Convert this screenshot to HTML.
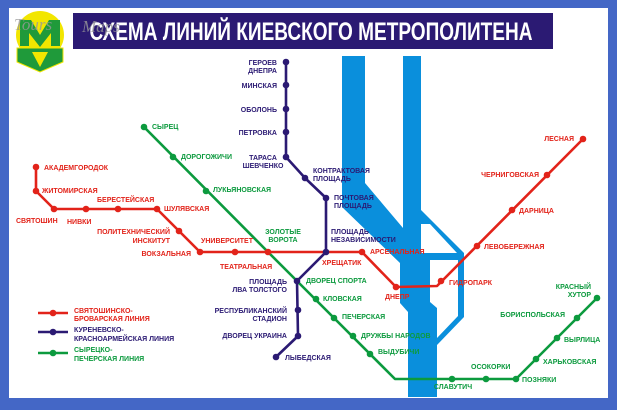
<!DOCTYPE html>
<html><head><meta charset="utf-8"><style>
html,body{margin:0;padding:0;background:#4467c6;}
svg{display:block}
text{font-family:"Liberation Sans Narrow","Liberation Sans",sans-serif;font-weight:bold;font-size:7px;}
.b{fill:#2b1a73}.r{fill:#e2231a}.g{fill:#0c9a3e}
</style></head><body>
<svg width="617" height="410" viewBox="0 0 617 410" xmlns="http://www.w3.org/2000/svg">
<rect x="0" y="0" width="617" height="410" fill="#4467c6"/>
<rect x="9" y="8" width="599" height="390" fill="#fff"/>
<!-- title -->
<rect x="73" y="13" width="480" height="36" fill="#2b1a73"/>
<text x="311" y="40" text-anchor="middle" style="font-size:25px;fill:#fff;font-family:'Liberation Sans Narrow','Liberation Sans',sans-serif;font-weight:bold" textLength="443" lengthAdjust="spacingAndGlyphs">СХЕМА ЛИНИЙ КИЕВСКОГО МЕТРОПОЛИТЕНА</text>
<!-- logo -->
<circle cx="40" cy="35" r="24" fill="#f2e600"/>
<polygon points="20,20 31,20 40,35 49,20 60,20 60,46 51,46 51,33 40,47 29,33 29,46 20,46" fill="#1f9a3a"/>
<polygon points="17,48 63,48 63,62 40,72 17,62" fill="#1f9a3a" stroke="#f2e600" stroke-width="1"/>
<polygon points="32,52 40,67 48,52" fill="#f2e600"/>
<text x="14" y="30" style="font-size:17px;fill:#999;font-style:italic;font-weight:normal;font-family:'Liberation Serif',serif;opacity:.8">Tours</text>
<text x="82" y="32" style="font-size:17px;fill:#999;font-style:italic;font-weight:normal;font-family:'Liberation Serif',serif;opacity:.8">Maps</text>
<!-- river -->
<polygon points="342,56 365,56 365,183 403,228 403,56 421,56 421,210 464,253 464,317 437,345 437,397 408,397 408,312 400,303 400,263 342,207" fill="#0a8fdc"/>
<polygon points="421,224 430,224 457,253 421,253" fill="#fff"/>
<polygon points="430,260 458,260 458,316 437,338 437,308 430,302" fill="#fff"/>
<!-- lines -->
<g fill="none" stroke-width="2.6" stroke-linejoin="round">
<polyline stroke="#2b1a73" points="286,62 286,157 305,178 326,198 326,252 297,281 298,336 276,357"/>
<polyline stroke="#0c9a3e" points="144,127 268,252 297,281 395,379 516,379 597,298"/>
<polyline stroke="#e2231a" points="36,167 36,191 54,209 157,209 200,252 362,252 396,287 437,286 583,139"/>
</g>
<g class="b">
<circle cx="286" cy="62" r="3.3"/><circle cx="286" cy="85" r="3.3"/><circle cx="286" cy="109" r="3.3"/><circle cx="286" cy="132" r="3.3"/><circle cx="286" cy="157" r="3.3"/><circle cx="305" cy="178" r="3.3"/><circle cx="326" cy="198" r="3.3"/><circle cx="326" cy="252" r="3.3"/><circle cx="297" cy="281" r="3.3"/><circle cx="298" cy="310" r="3.3"/><circle cx="298" cy="336" r="3.3"/><circle cx="276" cy="357" r="3.3"/>
</g>
<g class="r">
<circle cx="36" cy="167" r="3.3"/><circle cx="36" cy="191" r="3.3"/><circle cx="54" cy="209" r="3.3"/><circle cx="86" cy="209" r="3.3"/><circle cx="118" cy="209" r="3.3"/><circle cx="157" cy="209" r="3.3"/><circle cx="179" cy="231" r="3.3"/><circle cx="200" cy="252" r="3.3"/><circle cx="235" cy="252" r="3.3"/><circle cx="268" cy="252" r="3.3"/><circle cx="362" cy="252" r="3.3"/><circle cx="396" cy="287" r="3.3"/><circle cx="441" cy="281" r="3.3"/><circle cx="477" cy="246" r="3.3"/><circle cx="512" cy="210" r="3.3"/><circle cx="547" cy="175" r="3.3"/><circle cx="583" cy="139" r="3.3"/>
</g>
<g class="g">
<circle cx="144" cy="127" r="3.3"/><circle cx="173" cy="157" r="3.3"/><circle cx="206" cy="191" r="3.3"/><circle cx="316" cy="299" r="3.3"/><circle cx="334" cy="318" r="3.3"/><circle cx="353" cy="336" r="3.3"/><circle cx="370" cy="354" r="3.3"/><circle cx="452" cy="379" r="3.3"/><circle cx="486" cy="379" r="3.3"/><circle cx="516" cy="379" r="3.3"/><circle cx="536" cy="359" r="3.3"/><circle cx="557" cy="338" r="3.3"/><circle cx="577" cy="318" r="3.3"/><circle cx="597" cy="298" r="3.3"/>
</g>
<!-- blue labels -->
<g class="b">
<text x="277" y="65" text-anchor="end">ГЕРОЕВ</text><text x="277" y="73" text-anchor="end">ДНЕПРА</text>
<text x="277" y="88" text-anchor="end">МИНСКАЯ</text>
<text x="277" y="112" text-anchor="end">ОБОЛОНЬ</text>
<text x="277" y="135" text-anchor="end">ПЕТРОВКА</text>
<text x="263" y="160" text-anchor="middle">ТАРАСА</text><text x="263" y="168" text-anchor="middle">ШЕВЧЕНКО</text>
<text x="313" y="173">КОНТРАКТОВАЯ</text><text x="313" y="181">ПЛОЩАДЬ</text>
<text x="334" y="200">ПОЧТОВАЯ</text><text x="334" y="208">ПЛОЩАДЬ</text>
<text x="331" y="234">ПЛОЩАДЬ</text><text x="331" y="242">НЕЗАВИСИМОСТИ</text>
<text x="287" y="284" text-anchor="end">ПЛОЩАДЬ</text><text x="287" y="292" text-anchor="end">ЛВА ТОЛСТОГО</text>
<text x="287" y="313" text-anchor="end">РЕСПУБЛИКАНСКИЙ</text><text x="287" y="321" text-anchor="end">СТАДИОН</text>
<text x="287" y="338" text-anchor="end">ДВОРЕЦ УКРАИНА</text>
<text x="285" y="360">ЛЫБЕДСКАЯ</text>
</g>
<g class="r">
<text x="44" y="170">АКАДЕМГОРОДОК</text>
<text x="42" y="193">ЖИТОМИРСКАЯ</text>
<text x="16" y="223">СВЯТОШИН</text>
<text x="67" y="224">НИВКИ</text>
<text x="97" y="202">БЕРЕСТЕЙСКАЯ</text>
<text x="164" y="211">ШУЛЯВСКАЯ</text>
<text x="170" y="234" text-anchor="end">ПОЛИТЕХНИЧЕСКИЙ</text><text x="170" y="243" text-anchor="end">ИНСКИТУТ</text>
<text x="191" y="256" text-anchor="end">ВОКЗАЛЬНАЯ</text>
<text x="201" y="243">УНИВЕРСИТЕТ</text>
<text x="220" y="269">ТЕАТРАЛЬНАЯ</text>
<text x="322" y="265">ХРЕЩАТИК</text>
<text x="370" y="254">АРСЕНАЛЬНАЯ</text>
<text x="385" y="299">ДНЕПР</text>
<text x="449" y="285">ГИДРОПАРК</text>
<text x="484" y="249">ЛЕВОБЕРЕЖНАЯ</text>
<text x="519" y="213">ДАРНИЦА</text>
<text x="539" y="177" text-anchor="end">ЧЕРНИГОВСКАЯ</text>
<text x="574" y="141" text-anchor="end">ЛЕСНАЯ</text>
</g>
<g class="g">
<text x="152" y="129">СЫРЕЦ</text>
<text x="181" y="159">ДОРОГОЖИЧИ</text>
<text x="213" y="192">ЛУКЬЯНОВСКАЯ</text>
<text x="283" y="234" text-anchor="middle">ЗОЛОТЫЕ</text><text x="283" y="242" text-anchor="middle">ВОРОТА</text>
<text x="306" y="283">ДВОРЕЦ СПОРТА</text>
<text x="323" y="301">КЛОВСКАЯ</text>
<text x="342" y="319">ПЕЧЕРСКАЯ</text>
<text x="361" y="338">ДРУЖБЫ НАРОДОВ</text>
<text x="378" y="354">ВЫДУБИЧИ</text>
<text x="453" y="389" text-anchor="middle">СЛАВУТИЧ</text>
<text x="471" y="369">ОСОКОРКИ</text>
<text x="522" y="382">ПОЗНЯКИ</text>
<text x="543" y="364">ХАРЬКОВСКАЯ</text>
<text x="564" y="342">ВЫРЛИЦА</text>
<text x="565" y="317" text-anchor="end">БОРИСПОЛЬСКАЯ</text>
<text x="591" y="289" text-anchor="end">КРАСНЫЙ</text><text x="591" y="297" text-anchor="end">ХУТОР</text>
</g>
<!-- legend -->
<g stroke-width="2.6">
<line x1="38" y1="313" x2="68" y2="313" stroke="#e2231a"/>
<line x1="38" y1="332" x2="68" y2="332" stroke="#2b1a73"/>
<line x1="38" y1="353" x2="68" y2="353" stroke="#0c9a3e"/>
</g>
<circle cx="53" cy="313" r="3.3" class="r"/><circle cx="53" cy="332" r="3.3" class="b"/><circle cx="53" cy="353" r="3.3" class="g"/>
<text x="74" y="313" class="r">СВЯТОШИНСКО-</text><text x="74" y="321" class="r">БРОВАРСКАЯ ЛИНИЯ</text>
<text x="74" y="332" class="b">КУРЕНЕВСКО-</text><text x="74" y="341" class="b">КРАСНОАРМЕЙСКАЯ ЛИНИЯ</text>
<text x="74" y="352" class="g">СЫРЕЦКО-</text><text x="74" y="361" class="g">ПЕЧЕРСКАЯ ЛИНИЯ</text>
</svg>
</body></html>
